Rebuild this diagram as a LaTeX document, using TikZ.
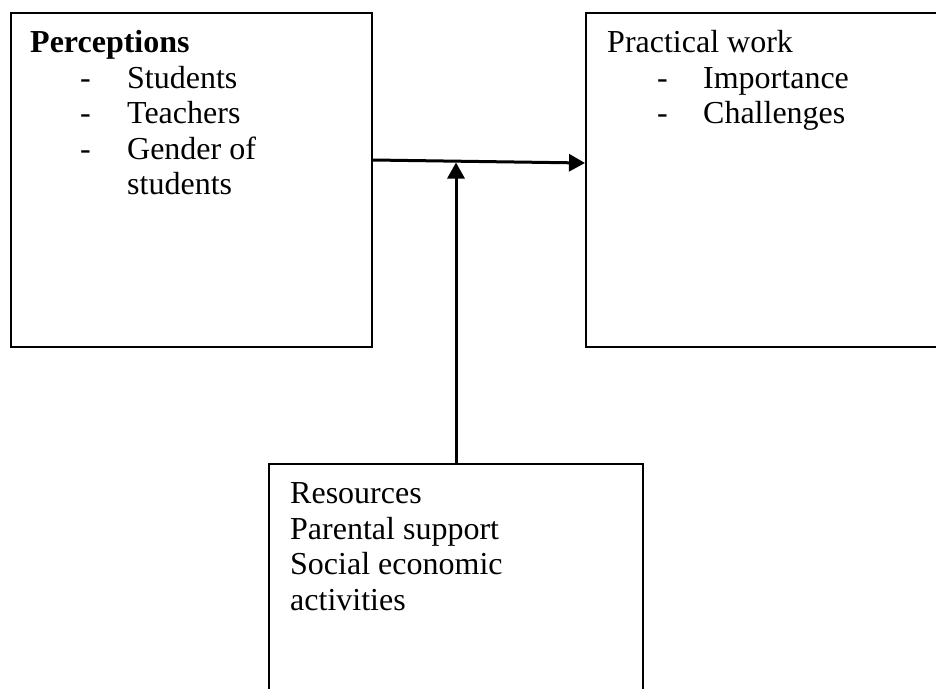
\documentclass[tikz,border=0pt]{standalone}
\usepackage{fontspec}
\setmainfont{Liberation Serif}
\usetikzlibrary{arrows.meta}

\tikzset{
  box/.style={draw, line width=2pt, anchor=north west, inner sep=0pt},
  boxtext/.style={anchor=north west, align=left, inner sep=0pt, font=\fontsize{32}{35.5}\selectfont},
  link/.style={line width=3pt, -{Triangle[length=16pt,width=17pt]}}
}
\newcommand{\itm}[1]{\hspace*{50pt}\makebox[47pt][l]{-}#1}

\begin{document}
\begin{tikzpicture}[x=1pt,y=-1pt]
    \useasboundingbox (0,0) rectangle (936,688);
    \clip (0,0) rectangle (936,688);
    \node[box, minimum width=361pt, minimum height=334pt] (perc) at (10,12) {}; % perceptions
    \node[box, minimum width=360pt, minimum height=334pt] (prac) at (585,12) {}; % practical work
    \node[box, minimum width=374pt, minimum height=260pt] (res) at (268,463) {}; % resources
    \node[boxtext] (perctext) at (30,27.5) {\strut\textbf{Perceptions}\\ \itm{Students}\\ \itm{Teachers}\\ \itm{Gender of}\\ \hspace*{97pt}students};
    \node[boxtext] (practext) at (607,27.5) {\strut Practical work\\ \hspace*{50pt}\makebox[46pt][l]{-}Importance\\ \hspace*{50pt}\makebox[46pt][l]{-}Challenges};
    \node[boxtext] (restext) at (290,478.5) {\strut Resources\\ Parental support\\ Social economic\\ activities};
    \coordinate (pout) at (perc.east |- 0,160);
    \coordinate (pin) at (prac.west |- 0,163);
    \coordinate (meet) at (res.north |- 0,162.5);
    \draw[link] (pout) -- (pin); % perceptions to practical work
    \draw[link] (res.north) -- (meet); % moderating factors
\end{tikzpicture}
\end{document}
